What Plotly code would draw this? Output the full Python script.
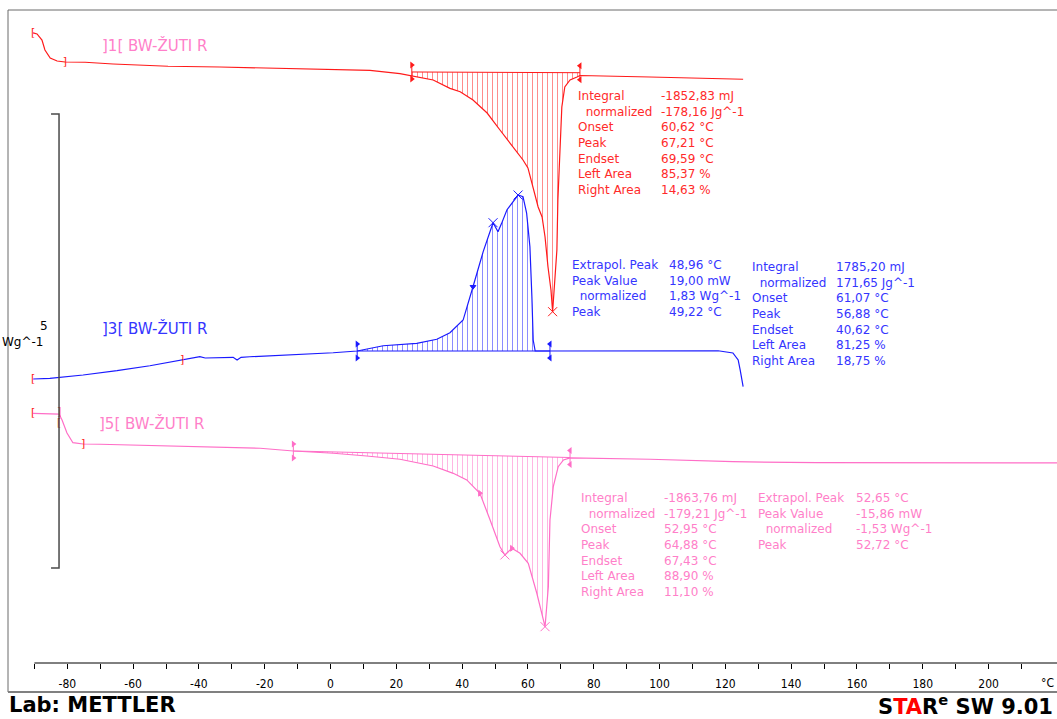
import numpy as np
import plotly.graph_objects as go

# ---------------- data ----------------
# Run 1 (red): temperature in degC, heat flow in W/g relative to its baseline level
t1 = [-90.4, -89.2, -87.7, -86.8, -85.2, -83.1, -80.7, -74.6, -66.1, -57.9,
      -49.4, -33.6, -21.4, -0.2, 12.0, 21.1, 24.7, 31.2, 36.3, 39.4,
      43.3, 47.6, 51.5, 55.5, 58.5, 60.0, 61.2, 62.2, 63.1, 64.3,
      65.2, 66.1, 67.0, 67.5, 68.2, 68.8, 69.1, 69.7, 70.3, 71.2,
      72.8, 74.9, 75.8, 97.1, 125.4]
hf1 = [0.430, 0.419, 0.352, 0.242, 0.154, 0.121, 0.110, 0.107, 0.088, 0.074,
       0.063, 0.055, 0.047, 0.028, 0.017, -0.018, -0.045, -0.088, -0.180, -0.217,
       -0.308, -0.452, -0.639, -0.826, -0.969, -1.057, -1.222, -1.377, -1.487, -1.597,
       -1.817, -2.148, -2.401, -2.640, -2.324, -1.960, -1.410, -0.859, -0.385, -0.165,
       -0.088, -0.055, -0.039, -0.055, -0.080]

# Run 3 (blue)
t3 = [-90.4, -85.3, -75.2, -64.9, -54.9, -45.1, -41.2, -39.7, -38.1, -29.6,
      -28.4, -27.2, -24.5, -12.3, 0.8, 8.1, 16.0, 26.2, 32.3, 36.3,
      40.3, 43.3, 46.4, 49.4, 50.9, 52.0, 53.6, 57.0, 58.5, 59.6,
      60.6, 61.2, 61.6, 62.2, 117.8, 122.3, 123.9, 124.5, 125.4]
hf3 = [-0.308, -0.301, -0.264, -0.217, -0.162, -0.099, -0.077, -0.063, -0.077, -0.069,
       -0.099, -0.069, -0.063, -0.044, -0.019, 0.000, 0.058, 0.085, 0.129, 0.202,
       0.341, 0.708, 1.094, 1.413, 1.314, 1.406, 1.553, 1.718, 1.699, 1.520,
       1.149, 0.598, 0.121, 0.000, 0.003, -0.022, -0.099, -0.209, -0.393]

# Run 5 (pink)
t5 = [-90.4, -83.7, -82.5, -81.6, -80.1, -78.3, -75.2, -70.1, -54.9, -39.7,
      -21.4, -11.3, 0.9, 11.0, 21.1, 31.2, 37.3, 41.4, 45.4, 48.5,
      51.5, 53.0, 55.1, 57.6, 60.1, 62.7, 65.2, 66.2, 66.7, 67.7,
      69.2, 70.8, 72.8, 97.1, 122.3, 147.8, 188.3, 220.8]
hf5 = [0.415, 0.415, 0.407, 0.341, 0.198, 0.091, 0.077, 0.074, 0.058, 0.047,
       0.030, 0.000, -0.025, -0.055, -0.091, -0.165, -0.246, -0.319, -0.466, -0.760,
       -1.054, -1.145, -1.072, -1.127, -1.237, -1.567, -1.935, -1.494, -0.760, -0.393,
       -0.173, -0.099, -0.077, -0.091, -0.118, -0.129, -0.129, -0.132]

# integration limits (degC) and baseline values (W/g) at those limits
integ1, base1 = (24.7, 75.8), (0.0, -0.008)
integ3, base3 = (8.1, 66.7), (0.0, 0.0)
integ5, base5 = (-11.3, 72.8), (0.0, -0.072)

# characteristic points (degC)
peaks1 = [67.5]
peaks3 = [49.4, 57.0]
peaks5 = [53.0, 65.2]
tang3 = [43.3]
tang5 = [45.4, 55.1]

run_names = ["]1[ BW-ŽUTI R", "]3[ BW-ŽUTI R", "]5[ BW-ŽUTI R"]

res1_labels = ["Integral", "\u00a0\u00a0normalized", "Onset", "Peak", "Endset", "Left Area", "Right Area"]
res1_values = ["-1852,83 mJ", "-178,16 Jg^-1", "60,62 °C", "67,21 °C", "69,59 °C", "85,37 %", "14,63 %"]
res3a_labels = ["Extrapol. Peak", "Peak Value", "\u00a0\u00a0normalized", "Peak"]
res3a_values = ["48,96 °C", "19,00 mW", "1,83 Wg^-1", "49,22 °C"]
res3b_labels = ["Integral", "\u00a0\u00a0normalized", "Onset", "Peak", "Endset", "Left Area", "Right Area"]
res3b_values = ["1785,20 mJ", "171,65 Jg^-1", "61,07 °C", "56,88 °C", "40,62 °C", "81,25 %", "18,75 %"]
res5a_labels = ["Integral", "\u00a0\u00a0normalized", "Onset", "Peak", "Endset", "Left Area", "Right Area"]
res5a_values = ["-1863,76 mJ", "-179,21 Jg^-1", "52,95 °C", "64,88 °C", "67,43 °C", "88,90 %", "11,10 %"]
res5b_labels = ["Extrapol. Peak", "Peak Value", "\u00a0\u00a0normalized", "Peak"]
res5b_values = ["52,65 °C", "-15,86 mW", "-1,53 Wg^-1", "52,72 °C"]

major_ticks = list(range(-80, 201, 20))
major_text = [str(v) for v in major_ticks]
minor_ticks = list(range(-90, 211, 20))

# ---------------- styling / layout ----------------
RED, BLUE, PINK = "#ff1a1a", "#1a1aff", "#ff6ec7"
RED_T, BLUE_T, PINK_T = "#ff2a2a", "#3535ff", "#ff7fc9"
OFF1, OFF3, OFF5 = 6.509, 3.436, 2.335   # vertical stacking of the runs (W/g)
TXT = "DejaVu Sans"
NARROW = "Liberation Sans Narrow, Arial Narrow, DejaVu Sans Condensed, Liberation Sans"
ROW = 0.1727      # line spacing of result tables in W/g
LIM = 0.077       # half-height of limit markers

fig = go.Figure()


def add_run(t, hf, off, color, integ, base):
    t = np.asarray(t, float)
    y = np.asarray(hf, float) + off
    a, b = integ
    m = (t >= a) & (t <= b)
    px = list(t[m]) + [b, a]
    py = list(y[m]) + [base[1] + off, base[0] + off]
    fig.add_trace(go.Scatter(x=px, y=py, mode="none", fill="toself",
                             fillcolor="rgba(0,0,0,0)",
                             fillpattern=dict(shape="|", size=5, solidity=0.2,
                                              fgcolor=color, bgcolor="rgba(0,0,0,0)"),
                             hoverinfo="skip"))
    fig.add_trace(go.Scatter(x=[a, b], y=[base[0] + off, base[1] + off], mode="lines",
                             line=dict(color=color, width=1), hoverinfo="skip"))
    fig.add_trace(go.Scatter(x=t, y=y, mode="lines", line=dict(color=color, width=1.2),
                             hoverinfo="skip"))
    # integration limit markers
    for lim, bv, sym in [(a, base[0], "triangle-right"), (b, base[1], "triangle-left")]:
        fig.add_trace(go.Scatter(x=[lim, lim], y=[bv + off - LIM, bv + off + LIM],
                                 mode="lines+markers", line=dict(color=color, width=1),
                                 marker=dict(symbol=sym, size=6, color=color),
                                 hoverinfo="skip"))
    return t, y


def add_points(t, y, pts, color, symbol, size):
    fig.add_trace(go.Scatter(x=pts, y=np.interp(pts, t, y), mode="markers",
                             marker=dict(symbol=symbol, size=size, color=color,
                                         line=dict(color=color, width=1)),
                             hoverinfo="skip"))


T1, Y1 = add_run(t1, hf1, OFF1, RED, integ1, base1)
T3, Y3 = add_run(t3, hf3, OFF3, BLUE, integ3, base3)
T5, Y5 = add_run(t5, hf5, OFF5, PINK, integ5, base5)

add_points(T1, Y1, peaks1, RED, "x-thin", 9)
add_points(T3, Y3, peaks3, BLUE, "x-thin", 9)
add_points(T5, Y5, peaks5, PINK, "x-thin", 9)
add_points(T3, Y3, tang3, BLUE, "triangle-down", 5)
add_points(T5, Y5, tang5, PINK, "triangle-right", 5)

# evaluation range brackets (red)
br_x = [-90.4, -80.7, -90.4, -45.1, -90.4, -82.5, -82.5, -75.2]
br_y = [np.interp(-90.4, T1, Y1), np.interp(-80.7, T1, Y1),
        np.interp(-90.4, T3, Y3), np.interp(-45.1, T3, Y3),
        np.interp(-90.4, T5, Y5), OFF5 + 0.43, OFF5 + 0.30, np.interp(-75.2, T5, Y5)]
br_t = ["[", "]", "[", "]", "[", "]", "[", "]"]
fig.add_trace(go.Scatter(x=br_x, y=br_y, mode="text", text=br_t,
                         textfont=dict(color="#ff2020", size=11, family=TXT),
                         textposition="middle center", hoverinfo="skip"))

# scale bar (5 W/g)
SB_X, SB_Y0, SB_LEN = -82.52, 1.046, 5.0
fig.add_trace(go.Scatter(x=[-84.95, SB_X, SB_X, -84.95],
                         y=[SB_Y0 + SB_LEN, SB_Y0 + SB_LEN, SB_Y0, SB_Y0],
                         mode="lines", line=dict(color="#4a4a4a", width=1.5), hoverinfo="skip"))

ann = []
ann.append(dict(x=-87.2, y=3.715, text="5", showarrow=False, xanchor="center", yanchor="middle",
                font=dict(family=TXT, size=12, color="black")))
ann.append(dict(x=-86.4, y=3.535, text="Wg^-1", showarrow=False, xanchor="right", yanchor="middle",
                font=dict(family=TXT, size=12, color="black")))

for name, x, y, col in [(run_names[0], -70.06, 6.806, PINK_T),
                        (run_names[1], -70.06, 3.689, BLUE_T),
                        (run_names[2], -70.97, 2.643, PINK_T)]:
    ann.append(dict(x=x, y=y, text=name, showarrow=False, xanchor="left", yanchor="middle",
                    font=dict(family=TXT, size=15, color=col)))


def table(labels, values, xl, xv, y0, col):
    for i, (l, v) in enumerate(zip(labels, values)):
        yy = y0 - i * ROW
        ann.append(dict(x=xl, y=yy, text=l, showarrow=False, xanchor="left", yanchor="middle",
                        font=dict(family=TXT, size=12, color=col)))
        ann.append(dict(x=xv, y=yy, text=v, showarrow=False, xanchor="left", yanchor="middle",
                        font=dict(family=TXT, size=12, color=col)))


table(res1_labels, res1_values, 74.6, 99.9, 6.244, RED_T)
table(res3a_labels, res3a_values, 72.9, 102.3, 4.383, BLUE_T)
table(res3b_labels, res3b_values, 127.6, 152.9, 4.361, BLUE_T)
table(res5a_labels, res5a_values, 75.6, 100.8, 1.817, PINK_T)
table(res5b_labels, res5b_values, 129.3, 159.2, 1.817, PINK_T)

H_PLOT = 663.0
ann.append(dict(x=217.8, y=(H_PLOT - 683) / H_PLOT, xref="x", yref="paper", text="°C",
                showarrow=False, xanchor="center", yanchor="middle",
                font=dict(family=NARROW, size=12, color="black")))
ann.append(dict(x=7 / 1057, y=(H_PLOT - 705) / H_PLOT, xref="paper", yref="paper",
                text="<b>Lab: METTLER</b>", showarrow=False, xanchor="left", yanchor="middle",
                font=dict(family="DejaVu Sans", size=21, color="black")))
ann.append(dict(x=1055 / 1057, y=(H_PLOT - 705) / H_PLOT, xref="paper", yref="paper",
                text="<b>S<span style='color:#ff0000'>TA</span>R<sup>e</sup> SW 9.01</b>",
                showarrow=False, xanchor="right", yanchor="middle",
                font=dict(family="DejaVu Sans", size=21, color="black")))

shapes = [
    dict(type="rect", xref="paper", yref="paper", x0=8 / 1057, x1=1.01,
         y0=(H_PLOT - 692) / H_PLOT, y1=(H_PLOT - 10) / H_PLOT,
         line=dict(color="#6a6a6a", width=1)),
    dict(type="line", xref="paper", yref="paper", x0=8 / 1057, x1=1.01,
         y0=(H_PLOT - 692) / H_PLOT, y1=(H_PLOT - 692) / H_PLOT,
         line=dict(color="#808080", width=2)),
    dict(type="line", xref="x", yref="paper", x0=-90, x1=222, y0=0, y1=0,
         line=dict(color="black", width=1)),
]

fig.update_layout(
    width=1057, height=719,
    margin=dict(l=0, r=0, t=0, b=56, pad=0),
    paper_bgcolor="white", plot_bgcolor="white",
    showlegend=False,
    annotations=ann, shapes=shapes,
    xaxis=dict(range=[-100.46, 220.8], tickmode="array", tickvals=major_ticks, ticktext=major_text,
               ticks="outside", ticklen=5, tickwidth=1, tickcolor="black",
               minor=dict(tickmode="array", tickvals=minor_ticks, ticks="outside",
                          ticklen=5, tickwidth=1, tickcolor="black", showgrid=False),
               showgrid=False, zeroline=False, showline=False, fixedrange=True,
               ticklabelstandoff=5,
               tickfont=dict(family=NARROW, size=12, color="black")),
    yaxis=dict(range=[0, H_PLOT / 90.8], visible=False, fixedrange=True),
)

fig.write_html("out.html", config={"displayModeBar": False},
               post_script="document.body.style.margin='0';document.body.style.overflow='hidden';")
